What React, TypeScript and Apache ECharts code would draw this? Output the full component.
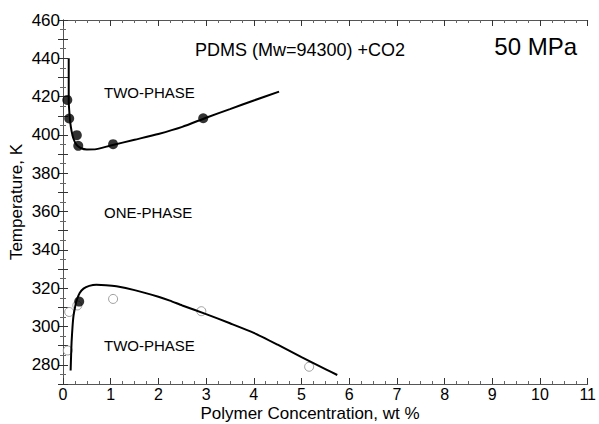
import React, { useEffect, useRef } from "react";
import * as echarts from "echarts";

// Upper two-phase boundary: measured points (filled)
const upperPtsX = [0.09, 0.13, 0.29, 0.32, 1.05, 2.94];
const upperPtsY = [418.3, 408.6, 399.9, 394.3, 395.2, 408.7];
// Lower boundary: filled point
const lowerFilledX = [0.34];
const lowerFilledY = [313];
// Lower boundary: open points
const openPtsX = [0.1, 0.13, 0.3, 1.05, 2.9, 5.16];
const openPtsY = [287.5, 307.6, 311, 314.4, 308, 279];

// Drawn boundary curves
const upperCurveX = [0.12, 0.12, 0.13, 0.15, 0.18, 0.22, 0.28, 0.37, 0.5, 0.7, 1.0, 1.5, 2.0, 2.5, 3.0, 3.5, 4.0, 4.53];
const upperCurveY = [440, 418, 413, 407, 402, 398, 395, 393.2, 392.4, 392.6, 394.5, 397.5, 400.5, 404.2, 409, 413.5, 418, 422.6];
const lowerCurveX = [0.16, 0.17, 0.18, 0.2, 0.22, 0.26, 0.29, 0.35, 0.43, 0.55, 0.7, 0.9, 1.12, 1.5, 2.0, 2.24, 2.5, 3.0, 3.5, 4.0, 4.5, 5.0, 5.5, 5.75];
const lowerCurveY = [277, 285, 292, 300, 305.5, 311, 314, 317.5, 319.8, 321.2, 321.8, 321.6, 321, 319, 315.5, 313.5, 311, 306.5, 301.7, 296.7, 290.5, 284, 277.8, 274.7];

const xMin = 0, xMax = 11, xStep = 1;
const yMin = 270, yMax = 460, yStep = 10;

const FONT = "'Liberation Sans', Arial, Helvetica, sans-serif";

const zip = (xs: number[], ys: number[]) => xs.map((x, i) => [x, ys[i]]);

export default function App() {
  const ref = useRef<HTMLDivElement>(null);
  useEffect(() => {
    const chart = echarts.init(ref.current!, null, { renderer: "svg" });
    const axisCommon = {
      type: "value" as const,
      splitLine: { show: false },
      axisLine: { show: true, lineStyle: { color: "#555", width: 1 } },
      axisTick: { show: true, inside: true, length: 6, lineStyle: { color: "#333", width: 1 } },
      minorTick: { show: true, splitNumber: 4, length: 3, lineStyle: { color: "#666", width: 1 } },
    };
    chart.setOption({
      animation: false,
      backgroundColor: "#fff",
      grid: { left: 63, top: 20, right: 11, bottom: 40, containLabel: false },
      xAxis: [
        {
          ...axisCommon,
          position: "bottom",
          min: xMin,
          max: xMax,
          interval: xStep,
          axisLabel: { fontSize: 16, color: "#000", margin: 2, fontFamily: FONT },
        },
        {
          ...axisCommon,
          position: "top",
          min: xMin,
          max: xMax,
          interval: xStep,
          axisLabel: { show: false },
        },
      ],
      yAxis: [
        {
          ...axisCommon,
          position: "left",
          min: yMin,
          max: yMax,
          interval: yStep,
          minorTick: { show: true, splitNumber: 2, length: 3, lineStyle: { color: "#666" } },
          axisTick: { show: true, inside: true, length: 5, lineStyle: { color: "#333" } },
          axisLabel: {
            fontSize: 17,
            color: "#000",
            margin: 3,
            fontFamily: FONT,
            formatter: (v: number) => (v % 20 === 0 ? String(v) : ""),
          },
        },
        {
          ...axisCommon,
          position: "right",
          min: yMin,
          max: yMax,
          interval: yStep,
          minorTick: { show: true, splitNumber: 2, length: 3, lineStyle: { color: "#666" } },
          axisTick: { show: true, inside: true, length: 5, lineStyle: { color: "#333" } },
          axisLabel: { show: false },
        },
      ],
      series: [
        {
          type: "scatter",
          data: zip(openPtsX, openPtsY),
          symbol: "circle",
          symbolSize: 9,
          itemStyle: { color: "#fff", borderColor: "#888", borderWidth: 1 },
          z: 1,
        },
        {
          type: "line",
          data: zip(upperCurveX, upperCurveY),
          showSymbol: false,
          smooth: 0.2,
          lineStyle: { color: "#000", width: 2 },
          z: 2,
        },
        {
          type: "line",
          data: zip(lowerCurveX, lowerCurveY),
          showSymbol: false,
          smooth: 0.2,
          lineStyle: { color: "#000", width: 2 },
          z: 2,
        },
        {
          type: "scatter",
          data: zip(upperPtsX, upperPtsY),
          symbol: "circle",
          symbolSize: 10,
          itemStyle: { color: "#000" },
          z: 3,
        },
        {
          type: "scatter",
          data: zip(lowerFilledX, lowerFilledY),
          symbol: "circle",
          symbolSize: 10,
          itemStyle: { color: "#000" },
          z: 3,
        },
      ],
      graphic: [
        { type: "text", x: 195, y: 50, style: { text: "PDMS (Mw=94300) +CO2", font: `18px ${FONT}`, fill: "#000", textVerticalAlign: "middle" } },
        { type: "text", x: 577, y: 46, style: { text: "50 MPa", font: `24px ${FONT}`, fill: "#000", textAlign: "right", textVerticalAlign: "middle" } },
        { type: "text", x: 104, y: 92, style: { text: "TWO-PHASE", font: `15px ${FONT}`, fill: "#000", textVerticalAlign: "middle" } },
        { type: "text", x: 104, y: 212, style: { text: "ONE-PHASE", font: `15px ${FONT}`, fill: "#000", textVerticalAlign: "middle" } },
        { type: "text", x: 104, y: 345, style: { text: "TWO-PHASE", font: `15px ${FONT}`, fill: "#000", textVerticalAlign: "middle" } },
        { type: "text", x: 310, y: 413, style: { text: "Polymer Concentration, wt %", font: `17px ${FONT}`, fill: "#000", textAlign: "center", textVerticalAlign: "middle" } },
        { type: "text", x: 16, y: 202, rotation: Math.PI / 2, style: { text: "Temperature, K", font: `17px ${FONT}`, fill: "#000", textAlign: "center", textVerticalAlign: "middle" } },
      ],
    });
    return () => chart.dispose();
  }, []);
  return <div ref={ref} style={{ position: "absolute", left: 0, top: 0, width: 599, height: 424 }} />;
}
